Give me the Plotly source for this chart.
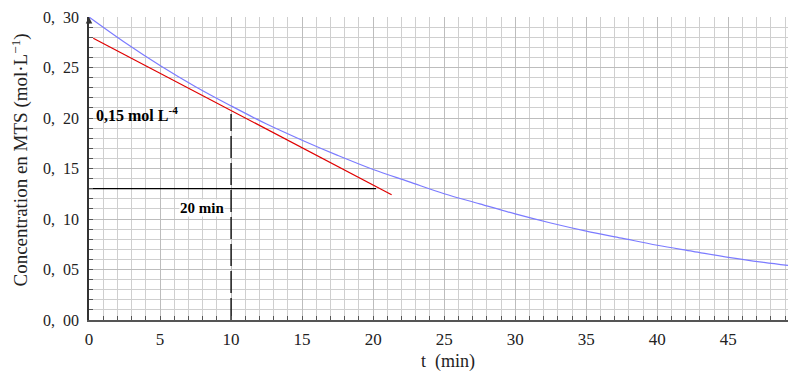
import plotly.graph_objects as go

# Blue curve: concentration of MTS vs time
t_min = [0, 2.5, 5, 7.5, 10, 12.5, 15, 17.5, 20, 22.5, 25, 27.5, 30, 32.5, 35, 37.5, 40, 42.5, 45, 47.5, 49.2]
conc = [0.300, 0.275, 0.252, 0.231, 0.212, 0.194, 0.178, 0.163, 0.149, 0.137, 0.125, 0.115,
        0.105, 0.096, 0.088, 0.081, 0.074, 0.068, 0.062, 0.057, 0.054]

# Red tangent line at t = 10 min
tangent_t = [0.3, 21.3]
tangent_c = [0.279, 0.124]

# Black guide lines
horiz_t = [0, 20.2]
horiz_c = [0.13, 0.13]
vert_t = [10, 10]
vert_c = [0.0, 0.204]

x_ticks = [0, 5, 10, 15, 20, 25, 30, 35, 40, 45]
y_ticks = [0.00, 0.05, 0.10, 0.15, 0.20, 0.25, 0.30]
y_tick_labels = ["0,\u2002" + s for s in ["00", "05", "10", "15", "20", "25", "30"]]

SERIF = "Liberation Serif"

fig = go.Figure()

fig.add_trace(go.Scatter(x=t_min, y=conc, mode="lines", line=dict(color="#7b7bff", width=1.2, shape="spline"),
                         showlegend=False, hoverinfo="skip"))
fig.add_trace(go.Scatter(x=tangent_t, y=tangent_c, mode="lines", line=dict(color="#e00000", width=1.2),
                         showlegend=False, hoverinfo="skip"))
fig.add_trace(go.Scatter(x=horiz_t, y=horiz_c, mode="lines", line=dict(color="black", width=1.2),
                         showlegend=False, hoverinfo="skip"))
fig.add_trace(go.Scatter(x=vert_t, y=vert_c, mode="lines", line=dict(color="black", width=1.3, dash="22px,5px"),
                         showlegend=False, hoverinfo="skip"))

fig.add_annotation(x=0.35, y=0.204, xref="x", yref="y", xanchor="left", yanchor="middle",
                   text="<b>0,15 mol L<sup>-4</sup></b>", showarrow=False,
                   font=dict(family=SERIF, size=16, color="black"))
fig.add_annotation(x=6.35, y=0.111, xref="x", yref="y", xanchor="left", yanchor="middle",
                   text="<b>20 min</b>", showarrow=False, bgcolor="white", borderpad=0,
                   font=dict(family=SERIF, size=15, color="black"))

# small arrow head at the top of the y axis
fig.add_annotation(x=0, y=0.30, xref="x", yref="y", ax=0, ay=8, axref="pixel", ayref="pixel",
                   showarrow=True, arrowhead=2, arrowsize=1, arrowwidth=1.3, arrowcolor="#333", text="")

# Axis titles placed as annotations
fig.add_annotation(x=0, y=0.5, xref="paper", yref="paper", xshift=-69, yshift=8, textangle=-90,
                   xanchor="center", yanchor="middle", showarrow=False,
                   text="Concentration en MTS (mol·L<sup>−1</sup>)",
                   font=dict(family=SERIF, size=19, color="#222"))
fig.add_annotation(x=0.5, y=0, xref="paper", yref="paper", xshift=9, yshift=-41,
                   xanchor="center", yanchor="middle", showarrow=False,
                   text="t\u2002(min)", font=dict(family=SERIF, size=18, color="#222"))

fig.update_layout(
    width=797, height=379,
    margin=dict(l=81, r=17, t=9, b=67),
    paper_bgcolor="white", plot_bgcolor="white",
    font=dict(family=SERIF, size=17, color="#222"),
    xaxis=dict(range=[0, 49.2], tickvals=x_ticks, ticktext=[str(v) for v in x_ticks], automargin=False,
               ticklabeloverflow="allow",
               showgrid=True, gridcolor="#bdbdbd", gridwidth=1,
               minor=dict(dtick=1, showgrid=True, gridcolor="#cfcfcf", ticks="inside", ticklen=4, tickcolor="#555"),
               ticks="inside", ticklen=4, tickcolor="#555", ticklabelstandoff=3,
               showline=True, linecolor="#555", linewidth=1.5, zeroline=False),
    yaxis=dict(range=[0, 0.30], tickvals=y_ticks, ticktext=y_tick_labels, automargin=False,
               ticklabeloverflow="allow", tickfont=dict(family=SERIF, size=16),
               showgrid=True, gridcolor="#bdbdbd", gridwidth=1,
               minor=dict(dtick=0.01, showgrid=True, gridcolor="#cfcfcf", ticks="inside", ticklen=4, tickcolor="#555"),
               ticks="inside", ticklen=4, tickcolor="#555", ticklabelstandoff=5,
               showline=True, linecolor="#333", linewidth=1.5, zeroline=False),
)

fig.write_html("out.html")
